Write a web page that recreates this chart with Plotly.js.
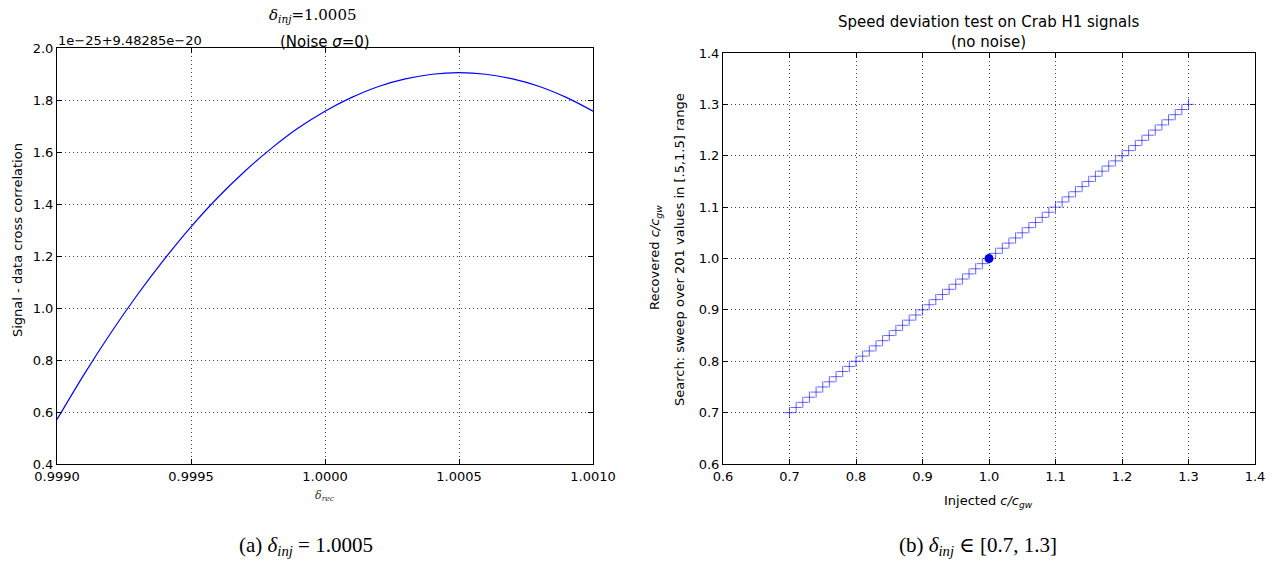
<!DOCTYPE html>
<html>
<head>
<meta charset="utf-8">
<script src="https://cdn.plot.ly/plotly-3.0.1.min.js"></script>
<style>html,body{margin:0;padding:0;background:#fff;}#chart{width:1283px;height:565px;}</style>
</head>
<body>
<div id="chart"></div>
<script>
// Left panel: signal - data cross correlation vs delta_rec (offset 1e-25 + 9.48285e-20)
const deltaRec = [0.9990,0.9991,0.9992,0.9993,0.9994,0.9995,0.9996,0.9997,0.9998,0.9999,1.0000,1.0001,1.0002,1.0003,1.0004,1.0005,1.0006,1.0007,1.0008,1.0009,1.0010];
const crossCorr = [0.571,0.743,0.903,1.051,1.187,1.312,1.425,1.525,1.614,1.692,1.757,1.810,1.852,1.881,1.899,1.905,1.899,1.881,1.852,1.810,1.757];

// Right panel: injected vs recovered c/c_gw
const injected = [0.70,0.71,0.72,0.73,0.74,0.75,0.76,0.77,0.78,0.79,
0.80,0.81,0.82,0.83,0.84,0.85,0.86,0.87,0.88,0.89,
0.90,0.91,0.92,0.93,0.94,0.95,0.96,0.97,0.98,0.99,
1.00,1.01,1.02,1.03,1.04,1.05,1.06,1.07,1.08,1.09,
1.10,1.11,1.12,1.13,1.14,1.15,1.16,1.17,1.18,1.19,
1.20,1.21,1.22,1.23,1.24,1.25,1.26,1.27,1.28,1.29,1.30];
const recovered = [0.70,0.71,0.72,0.73,0.74,0.75,0.76,0.77,0.78,0.79,
0.80,0.81,0.82,0.83,0.84,0.85,0.86,0.87,0.88,0.89,
0.90,0.91,0.92,0.93,0.94,0.95,0.96,0.97,0.98,0.99,
1.00,1.01,1.02,1.03,1.04,1.05,1.06,1.07,1.08,1.09,
1.10,1.11,1.12,1.13,1.14,1.15,1.16,1.17,1.18,1.19,
1.20,1.21,1.22,1.23,1.24,1.25,1.26,1.27,1.28,1.29,1.30];
const highlightX = [1.0];
const highlightY = [1.0];

const W = 1283, H = 565;
const px = x => x / W;
const py = y => 1 - y / H;

const sansFont = {family: 'DejaVu Sans, sans-serif', size: 13, color: '#000'};

const axisCommon = {
  showline: true, linecolor: '#000', linewidth: 1, mirror: 'ticks',
  ticks: 'inside', ticklen: 5, tickcolor: '#000', tickwidth: 1,
  showgrid: true, gridcolor: '#444', griddash: '1px,3px', gridwidth: 1,
  zeroline: false, tickfont: sansFont, fixedrange: true
};

const traces = [
  {x: deltaRec, y: crossCorr, xaxis: 'x', yaxis: 'y', mode: 'lines', type: 'scatter',
   line: {color: '#0000ff', width: 1.2, shape: 'spline'}, hoverinfo: 'none'},
  {x: injected, y: recovered, xaxis: 'x2', yaxis: 'y2', mode: 'markers', type: 'scatter',
   marker: {symbol: 'cross-thin-open', size: 8, color: 'rgba(0,0,255,0.6)', line: {color: 'rgba(0,0,255,0.6)', width: 1}}, hoverinfo: 'none'},
  {x: highlightX, y: highlightY, xaxis: 'x2', yaxis: 'y2', mode: 'markers', type: 'scatter',
   marker: {symbol: 'circle', size: 9, color: '#0000d8'}, hoverinfo: 'none'}
];

const layout = {
  width: W, height: H, showlegend: false,
  paper_bgcolor: '#fff', plot_bgcolor: '#fff',
  margin: {l: 0, r: 0, t: 0, b: 0},
  xaxis: Object.assign({}, axisCommon, {domain: [px(57), px(593)], range: [0.999, 1.001],
    tickvals: [0.999, 0.9995, 1.0, 1.0005, 1.001], ticktext: ['0.9990','0.9995','1.0000','1.0005','1.0010'], anchor: 'y'}),
  yaxis: Object.assign({}, axisCommon, {domain: [py(464), py(48)], range: [0.4, 2.0],
    tickvals: [0.4,0.6,0.8,1.0,1.2,1.4,1.6,1.8,2.0], tickformat: '.1f', anchor: 'x'}),
  xaxis2: Object.assign({}, axisCommon, {domain: [px(723), px(1255)], range: [0.6, 1.4],
    tickvals: [0.6,0.7,0.8,0.9,1.0,1.1,1.2,1.3,1.4], tickformat: '.1f', anchor: 'y2'}),
  yaxis2: Object.assign({}, axisCommon, {domain: [py(464), py(53)], range: [0.6, 1.4],
    tickvals: [0.6,0.7,0.8,0.9,1.0,1.1,1.2,1.3,1.4], tickformat: '.1f', anchor: 'x2'}),
  annotations: [
    {text: '<i>δ<sub>inj</sub></i>=1.0005', x: px(312), y: py(15), xref: 'paper', yref: 'paper', showarrow: false, font: {family: 'DejaVu Serif, serif', size: 15, color: '#000'}, xanchor: 'center', yanchor: 'middle'},
    {text: '(Noise <i>σ</i>=0)', x: px(325), y: py(42), xref: 'paper', yref: 'paper', showarrow: false, font: {family: 'DejaVu Sans, sans-serif', size: 15, color: '#000'}, xanchor: 'center', yanchor: 'middle'},
    {text: '1e−25+9.48285e−20', x: px(56), y: py(40), xref: 'paper', yref: 'paper', showarrow: false, font: sansFont, xanchor: 'left', yanchor: 'middle'},
    {text: '<i>δ<sub>rec</sub></i>', x: px(325), y: py(496), xref: 'paper', yref: 'paper', showarrow: false, font: {family: 'DejaVu Serif, serif', size: 11, color: '#333'}, xanchor: 'center', yanchor: 'middle'},
    {text: 'Signal - data cross correlation', x: px(17), y: py(240), xref: 'paper', yref: 'paper', showarrow: false, textangle: -90, font: sansFont, xanchor: 'center', yanchor: 'middle'},
    {text: 'Speed deviation test on Crab H1 signals', x: px(989), y: py(22), xref: 'paper', yref: 'paper', showarrow: false, font: {family: 'DejaVu Sans, sans-serif', size: 15, color: '#000'}, xanchor: 'center', yanchor: 'middle'},
    {text: '(no noise)', x: px(989), y: py(42), xref: 'paper', yref: 'paper', showarrow: false, font: {family: 'DejaVu Sans, sans-serif', size: 15, color: '#000'}, xanchor: 'center', yanchor: 'middle'},
    {text: 'Injected <i>c/c<sub>gw</sub></i>', x: px(989), y: py(501), xref: 'paper', yref: 'paper', showarrow: false, font: sansFont, xanchor: 'center', yanchor: 'middle'},
    {text: 'Recovered <i>c/c<sub>gw</sub></i>', x: px(655), y: py(258), xref: 'paper', yref: 'paper', showarrow: false, textangle: -90, font: sansFont, xanchor: 'center', yanchor: 'middle'},
    {text: 'Search: sweep over 201 values in [.5,1.5] range', x: px(679), y: py(250), xref: 'paper', yref: 'paper', showarrow: false, textangle: -90, font: sansFont, xanchor: 'center', yanchor: 'middle'},
    {text: '(a) <i>δ<sub>inj</sub></i> = 1.0005', x: px(306), y: py(546), xref: 'paper', yref: 'paper', showarrow: false, font: {family: 'Liberation Serif, DejaVu Serif, serif', size: 21, color: '#000'}, xanchor: 'center', yanchor: 'middle'},
    {text: '(b) <i>δ<sub>inj</sub></i> ∈ [0.7, 1.3]', x: px(978), y: py(546), xref: 'paper', yref: 'paper', showarrow: false, font: {family: 'Liberation Serif, DejaVu Serif, serif', size: 21, color: '#000'}, xanchor: 'center', yanchor: 'middle'}
  ]
};

Plotly.newPlot('chart', traces, layout, {displayModeBar: false, staticPlot: true});
</script>
</body>
</html>
